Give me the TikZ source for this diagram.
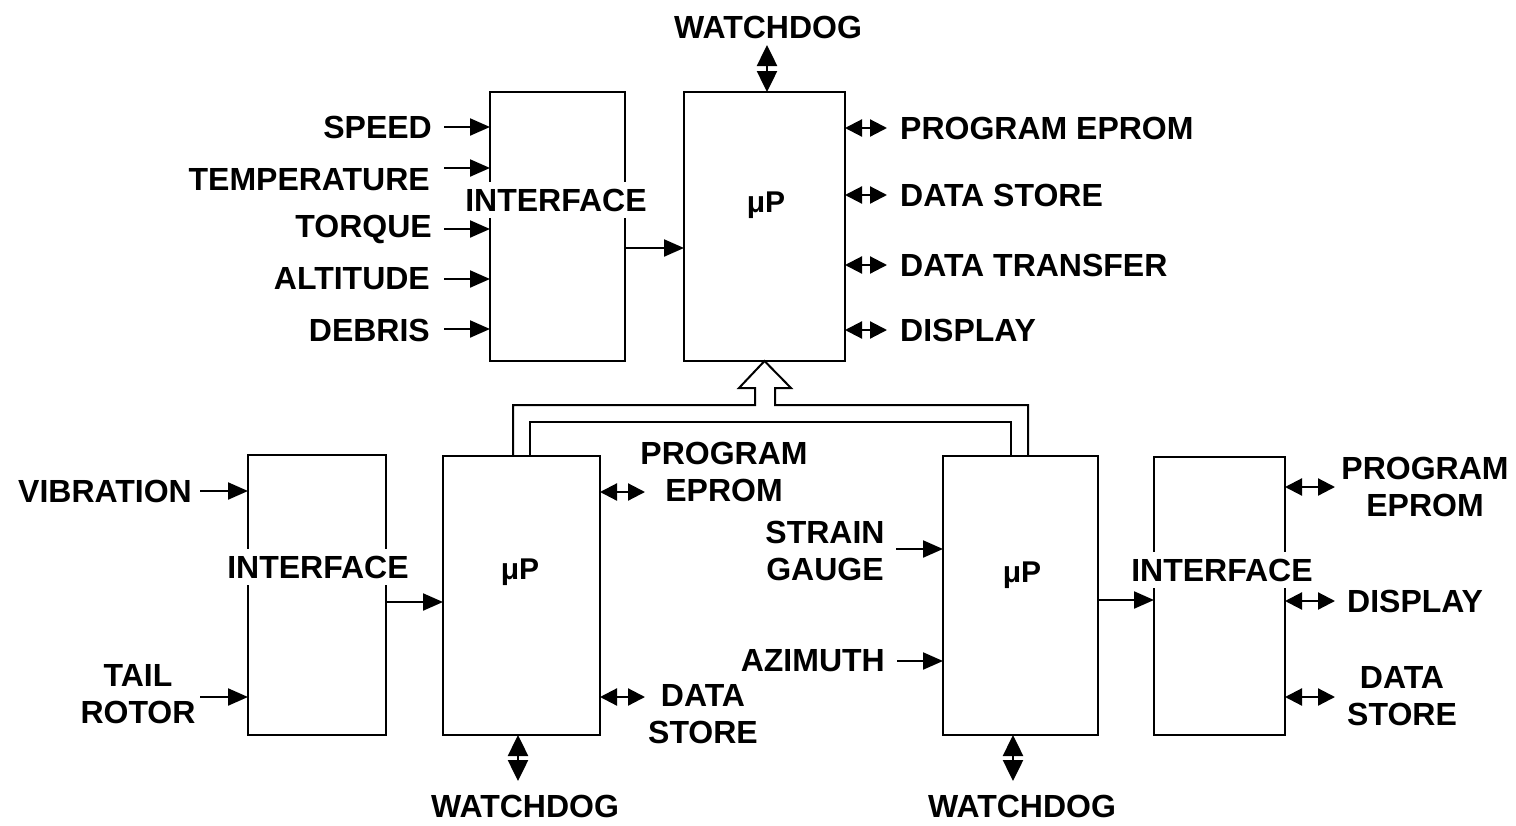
\documentclass[tikz,border=0pt]{standalone}
\usepackage{fontspec}
\setmainfont{Liberation Sans}
\usetikzlibrary{arrows.meta}
\begin{document}
\begin{tikzpicture}[x=1pt,y=-1pt,
  box/.style={draw,line width=2pt,inner sep=0pt,outer sep=0pt},
  lbl/.style={font=\fontsize{32}{37}\selectfont\bfseries,inner sep=0pt,align=center},
  mup/.style={font=\fontsize{30}{34}\selectfont\bfseries,inner sep=0pt,anchor=base},
  ifl/.style={lbl,fill=white,inner xsep=3pt,inner ysep=7pt},
  arr/.style={line width=2.2pt,-{Triangle[length=20pt,width=17pt]}},
  darr/.style={line width=2.2pt,{Triangle[length=17pt,width=17pt]}-{Triangle[length=17pt,width=17pt]}},
  vdarr/.style={line width=2.5pt,{Triangle[length=21pt,width=20pt]}-{Triangle[length=21pt,width=20pt]}},
  bus/.style={line width=2pt,line join=miter}
]
\useasboundingbox (0,0) rectangle (1516,825);

% boxes
\node[box,minimum width=135pt,minimum height=269pt] (itop) at (557.5,226.5) {};
\node[box,minimum width=161pt,minimum height=269pt] (ptop) at (764.5,226.5) {};
\node[box,minimum width=138pt,minimum height=280pt] (ibl) at (317,595) {};
\node[box,minimum width=157pt,minimum height=279pt] (pbl) at (521.5,595.5) {};
\node[box,minimum width=155pt,minimum height=279pt] (pbr) at (1020.5,595.5) {};
\node[box,minimum width=131pt,minimum height=278pt] (ibr) at (1219.5,596) {};

% box texts
\node[ifl] (itopt) at (556,200) {INTERFACE};
\node[mup] (ptopt) at (766,212) {μP};
\node[ifl] (iblt) at (318,567) {INTERFACE};
\node[mup] (pblt) at (520,579) {μP};
\node[mup] (pbrt) at (1022,582) {μP};
\node[ifl] (ibrt) at (1222,570) {INTERFACE};

% top labels
\node[lbl] (wdt) at (768,27) {WATCHDOG};
\node[lbl,anchor=east] (speed) at (432,127) {SPEED};
\node[lbl,anchor=east] (temp) at (430,180) {TEMPERATURE};
\node[lbl,anchor=east] (torque) at (432,229) {TORQUE};
\node[lbl,anchor=east] (alt) at (430,279) {ALTITUDE};
\node[lbl,anchor=east] (debris) at (430,330) {DEBRIS};
\node[lbl,anchor=west] (tpe) at (900,128) {PROGRAM EPROM};
\node[lbl,anchor=west] (tds) at (900,195) {DATA STORE};
\node[lbl,anchor=west] (tdt) at (900,265) {DATA TRANSFER};
\node[lbl,anchor=west] (tdi) at (900,330) {DISPLAY};

% bottom-left labels
\node[lbl,anchor=east] (vib) at (192,491) {VIBRATION};
\node[lbl] (tail) at (138,694) {TAIL\\ROTOR};
\node[lbl] (bpe) at (724,472) {PROGRAM\\EPROM};
\node[lbl] (bds) at (703,714.5) {DATA\\STORE};
\node[lbl] (bwd) at (525,806) {WATCHDOG};

% bottom-right labels
\node[lbl] (strain) at (825,550.5) {STRAIN\\GAUGE};
\node[lbl,anchor=east] (azi) at (885,661) {AZIMUTH};
\node[lbl] (rwd) at (1022,806) {WATCHDOG};
\node[lbl] (rpe) at (1425,486.5) {PROGRAM\\EPROM};
\node[lbl,anchor=west] (rdi) at (1347,601) {DISPLAY};
\node[lbl] (rds) at (1402,696.5) {DATA\\STORE};

% top inputs
\draw[arr] (444,127) -- (itop.west |- 0,127);
\draw[arr] (444,168) -- (itop.west |- 0,168);
\draw[arr] (444,229) -- (itop.west |- 0,229);
\draw[arr] (444,279) -- (itop.west |- 0,279);
\draw[arr] (444,329) -- (itop.west |- 0,329);
\draw[arr] (itop.east |- 0,248) -- (ptop.west |- 0,248);

% top outputs
\draw[darr] (ptop.east |- 0,128) -- (887,128);
\draw[darr] (ptop.east |- 0,195) -- (887,195);
\draw[darr] (ptop.east |- 0,265) -- (887,265);
\draw[darr] (ptop.east |- 0,330) -- (887,330);
\draw[vdarr] ([xshift=2.5pt]ptop.north) -- ++(0,-47);

% bus with hollow arrow
\draw[bus] (513,456) -- (513,405) -- (755,405) -- (755,388) -- (739,388) -- (ptop.south) -- (791,388) -- (775,388) -- (775,405) -- (1028,405) -- (1028,456);
\draw[bus] (530,456) -- (530,422) -- (1011,422) -- (1011,456);

% bottom-left
\draw[arr] (200,491) -- (ibl.west |- 0,491);
\draw[arr] (200,697) -- (ibl.west |- 0,697);
\draw[arr] (ibl.east |- 0,602) -- (pbl.west |- 0,602);
\draw[darr] (pbl.east |- 0,492) -- (645,492);
\draw[darr] (pbl.east |- 0,697) -- (645,697);
\draw[vdarr] ([xshift=-3.5pt]pbl.south) -- ++(0,46);

% bottom-right
\draw[arr] (896,549) -- (pbr.west |- 0,549);
\draw[arr] (897,661) -- (pbr.west |- 0,661);
\draw[arr] (pbr.east |- 0,600) -- (ibr.west |- 0,600);
\draw[vdarr] ([xshift=-7.5pt]pbr.south) -- ++(0,46);
\draw[darr] (ibr.east |- 0,487) -- (1335,487);
\draw[darr] (ibr.east |- 0,601) -- (1335,601);
\draw[darr] (ibr.east |- 0,697) -- (1335,697);
\end{tikzpicture}
\end{document}
